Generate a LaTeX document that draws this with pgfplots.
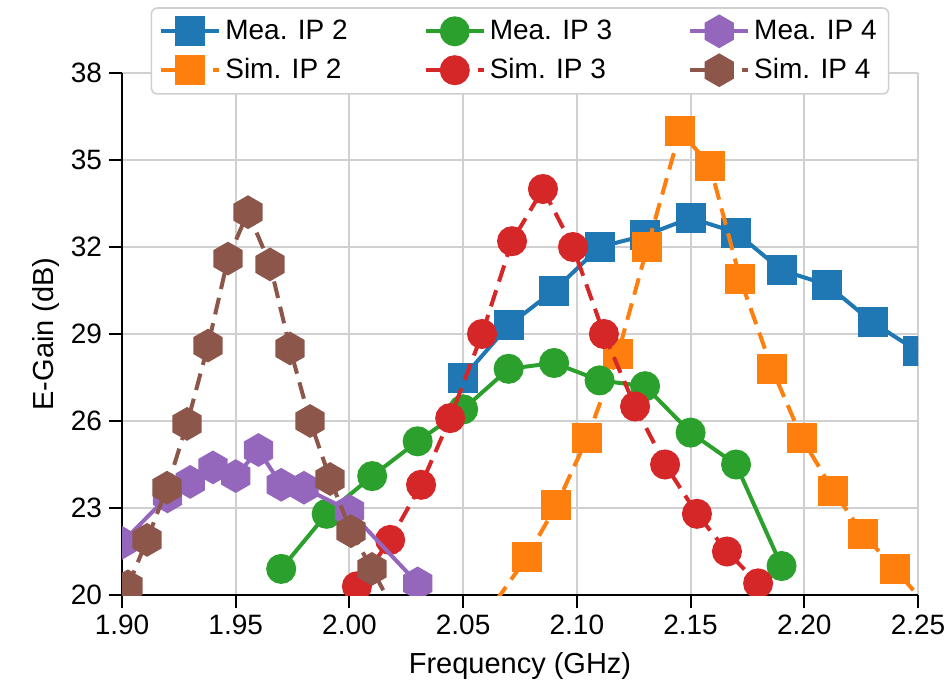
\documentclass[border=0pt]{standalone}
\usepackage{fontspec}
\setmainfont{Liberation Sans}
\usepackage{pgfplots}
\pgfplotsset{compat=1.18}
\usetikzlibrary{calc}

\definecolor{cblue}{HTML}{1F77B4}
\definecolor{corange}{HTML}{FF7F0E}
\definecolor{cgreen}{HTML}{2CA02C}
\definecolor{cred}{HTML}{D62728}
\definecolor{cpurple}{HTML}{9467BD}
\definecolor{cbrown}{HTML}{8C564B}
\definecolor{gridgray}{HTML}{D0D0D0}

% matplotlib-style hexagon, vertex up
\pgfdeclareplotmark{hexagon*}{%
  \pgfpathmoveto{\pgfqpointpolar{90}{\pgfplotmarksize}}%
  \pgfpathlineto{\pgfqpointpolar{150}{\pgfplotmarksize}}%
  \pgfpathlineto{\pgfqpointpolar{210}{\pgfplotmarksize}}%
  \pgfpathlineto{\pgfqpointpolar{270}{\pgfplotmarksize}}%
  \pgfpathlineto{\pgfqpointpolar{330}{\pgfplotmarksize}}%
  \pgfpathlineto{\pgfqpointpolar{30}{\pgfplotmarksize}}%
  \pgfpathclose
  \pgfusepathqfillstroke
}

\begin{document}
\begin{tikzpicture}
\begin{axis}[
  scale only axis,
  width=398pt, height=261pt,
  xmin=1.90, xmax=2.25, ymin=20, ymax=38,
  xtick={1.90,1.95,...,2.25},
  ytick={20,23,...,38},
  xticklabel style={/pgf/number format/.cd,fixed,fixed zerofill,precision=2},
  /pgf/number format/assume math mode=true,
  axis lines=left,
  axis line style={-, line width=1pt, black},
  tick style={line width=1pt, black},
  tick align=outside,
  major tick length=6.5pt,
  grid=major,
  major grid style={gridgray, line width=1pt},
  tick label style={font=\fontsize{14}{16}\selectfont},
  label style={font=\fontsize{14.5}{17}\selectfont},
  xlabel={Frequency (GHz)},
  ylabel={E-Gain (dB)},
  xlabel style={yshift=-2pt},
  ylabel style={yshift=-1pt},
  clip marker paths=true,
  every axis plot/.append style={line width=2pt},
  legend columns=3,
  legend cell align=left,
  legend style={
    at={(0.5,1.126)}, anchor=north,
    draw=gridgray, line width=0.8pt, rounded corners=3pt, fill=white,
    font=\fontsize{14}{16}\selectfont,
    /tikz/every even column/.append style={column sep=36pt},
    row sep=4pt, inner xsep=4pt, inner ysep=4pt,
  },
  legend image code/.code={%
    \draw[mark repeat=2,mark phase=2,#1] plot coordinates {(0pt,0pt) (14.5pt,0pt) (29pt,0pt)};},
]
% Mea. IP 2
\addplot[cblue, mark=square*, mark size=6.5pt, mark options={solid}, forget plot] coordinates {
(2.05,27.5)(2.07,29.3)(2.09,30.5)(2.11,32.0)(2.13,32.4)(2.15,33.0)(2.17,32.5)(2.19,31.2)(2.21,30.7)(2.23,29.4)(2.25,28.4)};
% Sim. IP 2
\addplot[corange, dash pattern=on 8.5pt off 4.5pt, mark=square*, mark size=6.5pt, mark options={solid}, forget plot] coordinates {
(2.0645,19.8)(2.078,21.3)(2.091,23.1)(2.1045,25.4)(2.118,28.3)(2.131,32.0)(2.1454,36.0)(2.1586,34.8)(2.1718,30.9)(2.1858,27.8)(2.199,25.4)(2.2127,23.6)(2.2259,22.1)(2.2399,20.9)(2.253,19.7)};
% Mea. IP 3
\addplot[cgreen, mark=*, mark size=6.5pt, mark options={solid}, forget plot] coordinates {
(1.97,20.9)(1.99,22.8)(2.01,24.1)(2.03,25.3)(2.05,26.4)(2.07,27.8)(2.09,28.0)(2.11,27.4)(2.13,27.2)(2.15,25.6)(2.17,24.5)(2.19,21.0)};
% Sim. IP 3
\addplot[cred, dash pattern=on 8.5pt off 4.5pt, mark=*, mark size=6.5pt, mark options={solid}, forget plot] coordinates {
(2.0033,20.3)(2.0179,21.9)(2.0315,23.8)(2.0443,26.1)(2.0583,29.0)(2.0715,32.2)(2.0851,34.0)(2.0983,32.0)(2.1119,29.0)(2.1256,26.5)(2.1388,24.5)(2.1528,22.8)(2.166,21.5)(2.1797,20.4)};
% Mea. IP 4
\addplot[cpurple, mark=hexagon*, mark size=7.3pt, mark options={solid}, forget plot] coordinates {
(1.90,21.8)(1.92,23.4)(1.93,23.9)(1.94,24.4)(1.95,24.1)(1.96,25.0)(1.97,23.8)(1.98,23.7)(2.00,22.9)(2.03,20.4)};
% Sim. IP 4
\addplot[cbrown, dash pattern=on 8.5pt off 4.5pt, mark=hexagon*, mark size=7.3pt, mark options={solid}, forget plot] coordinates {
(1.9026,20.3)(1.911,21.9)(1.9198,23.7)(1.9286,25.9)(1.9378,28.6)(1.9466,31.6)(1.9554,33.2)(1.9651,31.4)(1.9739,28.5)(1.9827,26.0)(1.9915,24.0)(2.0007,22.2)(2.0099,20.9)(2.0187,19.6)};

\addlegendimage{cblue, line width=2pt, mark=square*, mark size=6.5pt}
\addlegendentry{Mea. IP 2}
\addlegendimage{cgreen, line width=2pt, mark=*, mark size=6.5pt}
\addlegendentry{Mea. IP 3}
\addlegendimage{cpurple, line width=2pt, mark=hexagon*, mark size=7.3pt}
\addlegendentry{Mea. IP 4}
\addlegendimage{corange, line width=2pt, dash pattern=on 8.5pt off 4.5pt, mark=square*, mark size=6.5pt, mark options={solid}}
\addlegendentry{Sim. IP 2}
\addlegendimage{cred, line width=2pt, dash pattern=on 8.5pt off 4.5pt, mark=*, mark size=6.5pt, mark options={solid}}
\addlegendentry{Sim. IP 3}
\addlegendimage{cbrown, line width=2pt, dash pattern=on 8.5pt off 4.5pt, mark=hexagon*, mark size=7.3pt, mark options={solid}}
\addlegendentry{Sim. IP 4}
\end{axis}
\pgfresetboundingbox
\path ($(current axis.south west)+(-61pt,-45.5pt)$) rectangle ($(current axis.north east)+(16.5pt,36.5pt)$);
\end{tikzpicture}
\end{document}
